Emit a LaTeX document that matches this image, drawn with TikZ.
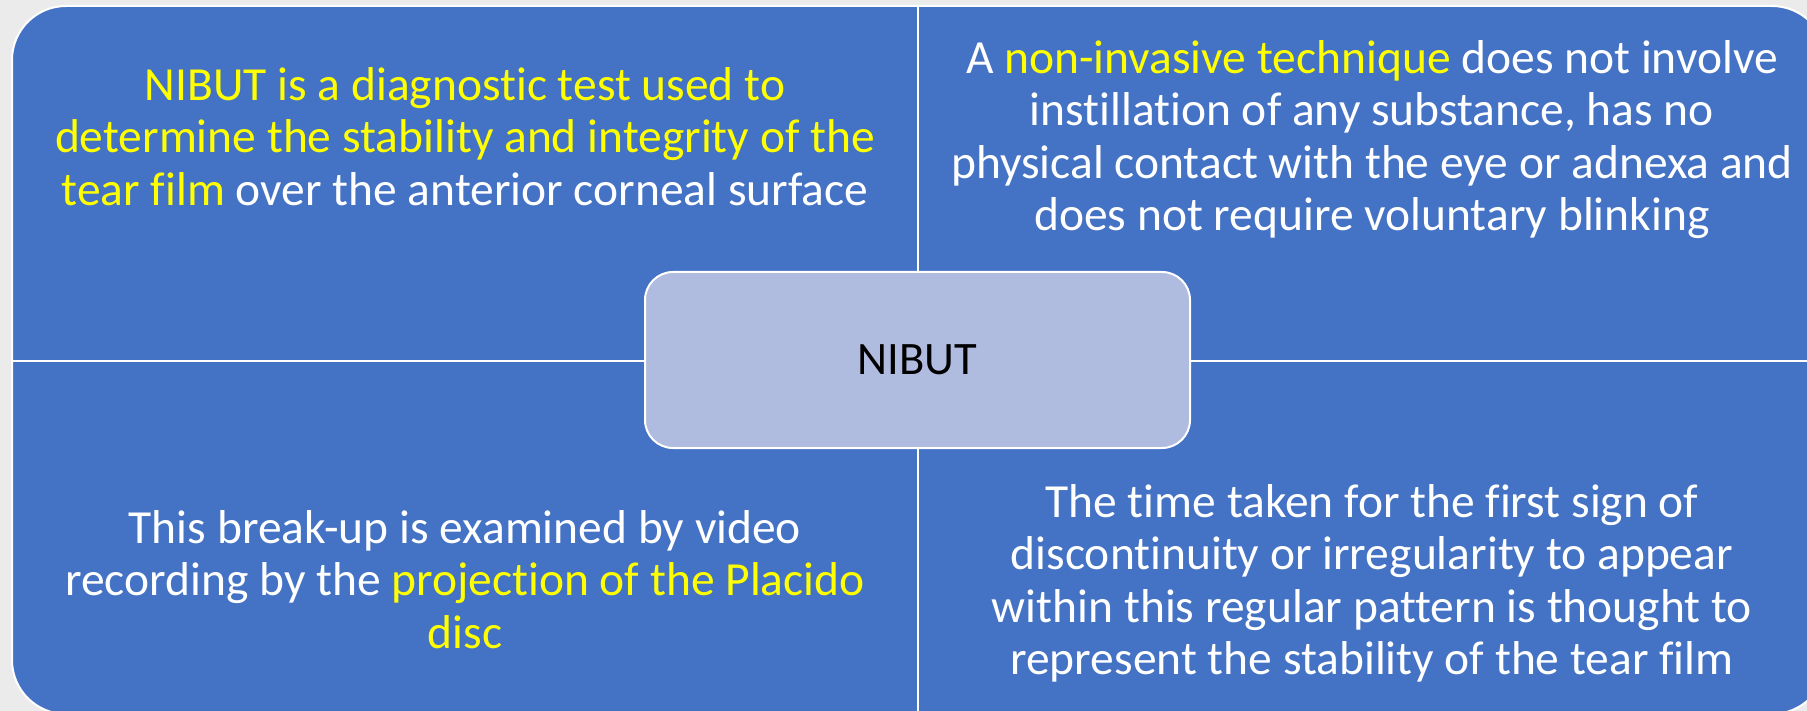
\documentclass[tikz,border=0pt]{standalone}
\usepackage{fontspec}
\setmainfont[Ligatures=NoCommon]{Carlito}
\definecolor{qblue}{HTML}{4472C4}
\definecolor{cfill}{HTML}{AFBCDF}
\definecolor{hl}{HTML}{FFFF00}
\definecolor{bg}{HTML}{EBEBEB}
\tikzset{
  txt/.style={align=center, inner sep=0pt, anchor=north, text=white,
    font=\fontsize{47.5}{52.5}\selectfont},
  divider/.style={draw=white, line width=2.5pt},
  hub/.style={draw=white, line width=2pt, fill=cfill, rounded corners=28pt,
    minimum width=545pt, minimum height=176pt, inner sep=0pt, text=black,
    font=\fontsize{46.5}{52.5}\selectfont}
}
\begin{document}
\begin{tikzpicture}[x=1pt, y=-1pt]
\fill[bg] (0,0) rectangle (1807,711);
\useasboundingbox (0,0) rectangle (1807,711);
\clip (0,0) rectangle (1807,711);
\draw[white, line width=2pt, fill=qblue, rounded corners=54pt] (12,6) rectangle (1826,714);
\coordinate (vtop) at (918,6);
\coordinate (vbot) at (918,714);
\coordinate (hleft) at (12,361);
\coordinate (hright) at (1826,361);
\draw[divider] (vtop) -- (vbot);
\draw[divider] (hleft) -- (hright);
\node[hub] (c) at (917.5,360) {NIBUT};
\node[txt] (tl) at (465,63.25) {\strut\textcolor{hl}{NIBUT is a diagnostic test used to}\\
  \textcolor{hl}{determine the stability and integrity of the}\\
  \textcolor{hl}{tear film} over the anterior corneal surface};
\node[txt] (tr) at (1372,36.25) {\strut A \textcolor{hl}{non-invasive technique} does not involve\\
  instillation of any substance, has no\\
  physical contact with the eye or adnexa and\\
  does not require voluntary blinking};
\node[txt] (bl) at (465,506.25) {\strut This break-up is examined by video\\
  recording by the \textcolor{hl}{projection of the Placido}\\
  \textcolor{hl}{disc}};
\node[txt] (br) at (1372,480.25) {\strut The time taken for the first sign of\\
  discontinuity or irregularity to appear\\
  within this regular pattern is thought to\\
  represent the stability of the tear film};
\end{tikzpicture}
\end{document}
